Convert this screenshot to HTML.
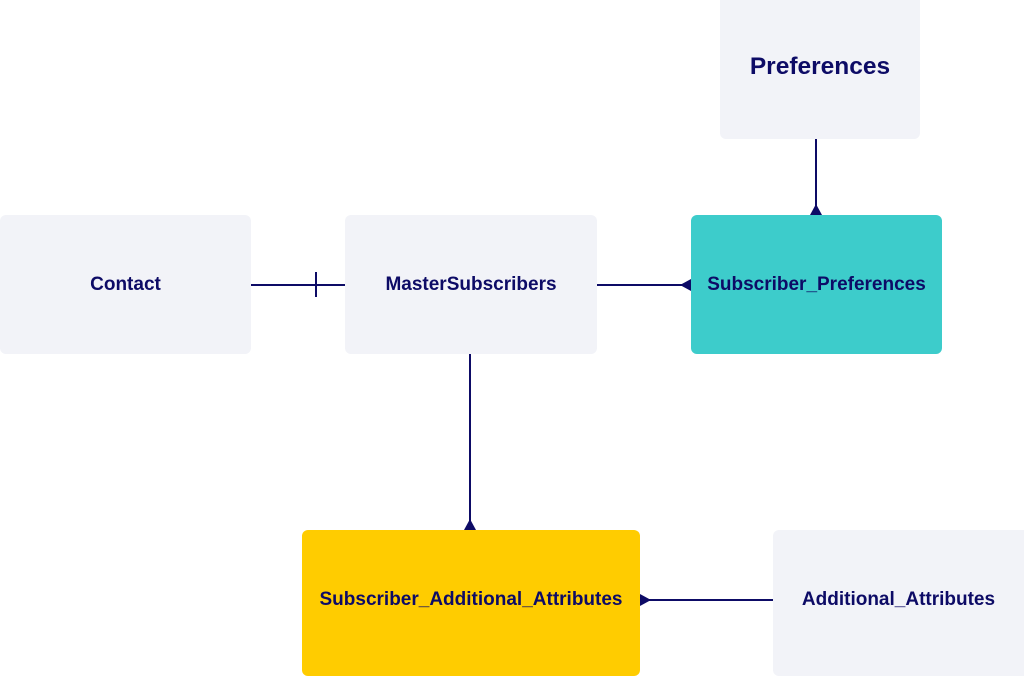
<!DOCTYPE html>
<html><head><meta charset="utf-8"><style>
body{margin:0;width:1024px;height:670px;overflow:hidden;background:#fff;position:relative;font-family:"Liberation Sans",Arial,sans-serif}
.b{position:absolute;border-radius:6px;display:flex;align-items:center;justify-content:center;font-weight:bold;font-size:19px;color:#0d0b66;background:#f2f3f8;letter-spacing:0}
svg{position:absolute;left:0;top:0}
</style></head><body>
<div class="b" style="left:720px;top:-6px;width:200px;height:145px;font-size:24.5px">Preferences</div>
<div class="b" style="left:0;top:215px;width:251px;height:139px">Contact</div>
<div class="b" style="left:345px;top:215px;width:252px;height:139px">MasterSubscribers</div>
<div class="b" style="left:691px;top:215px;width:251px;height:139px;background:#3dcccb">Subscriber_Preferences</div>
<div class="b" style="left:302px;top:530px;width:338px;height:146px;background:#ffcc00;padding-bottom:6px;box-sizing:border-box">Subscriber_Additional_Attributes</div>
<div class="b" style="left:773px;top:530px;width:260px;height:146px;padding-bottom:6px;padding-right:9px;box-sizing:border-box">Additional_Attributes</div>
<svg width="1024" height="670" stroke="#0d0b66" stroke-width="2" fill="#0d0b66">
<line x1="251" y1="285" x2="345" y2="285"/>
<line x1="316" y1="272" x2="316" y2="297"/>
<line x1="597" y1="285" x2="686" y2="285"/>
<polygon points="680,285 691,279 691,291" stroke="none"/>
<line x1="816" y1="139" x2="816" y2="210"/>
<polygon points="816,204 810,215 822,215" stroke="none"/>
<line x1="470" y1="354" x2="470" y2="525"/>
<polygon points="470,519 464,530 476,530" stroke="none"/>
<line x1="645" y1="600" x2="773" y2="600"/>
<polygon points="651,600 640,594 640,606" stroke="none"/>
</svg>
</body></html>
